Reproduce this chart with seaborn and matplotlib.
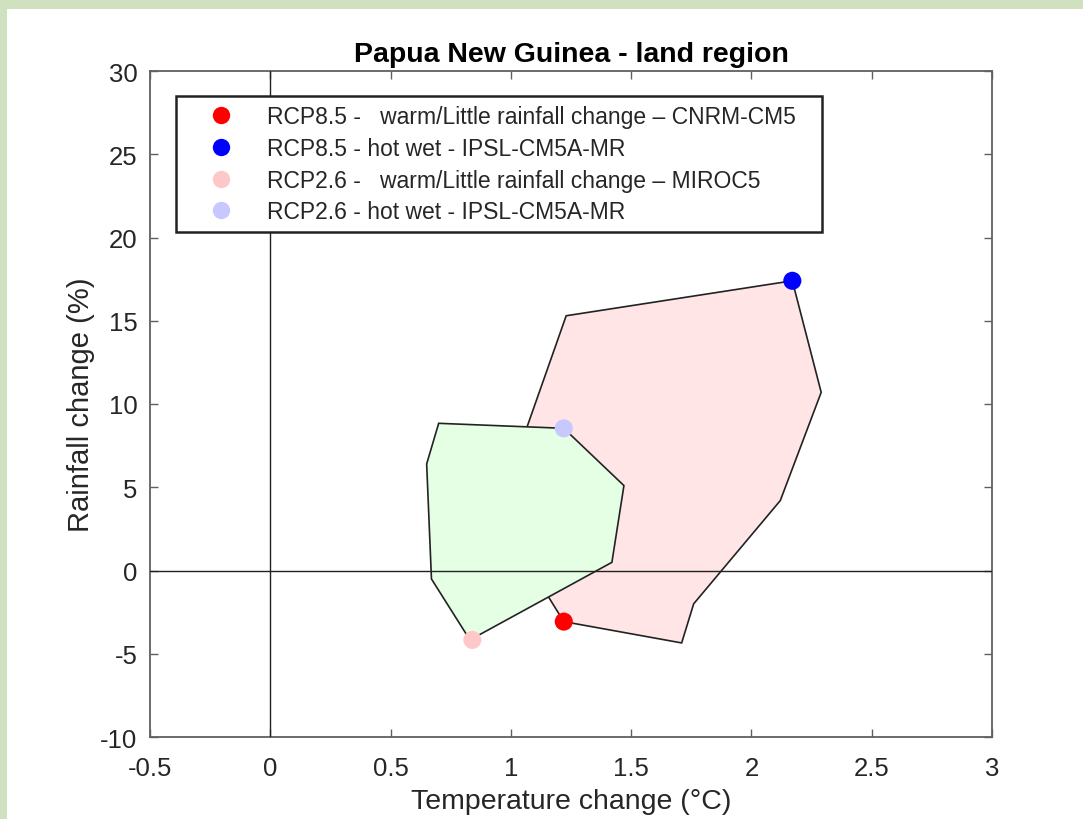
import matplotlib
matplotlib.use("Agg")
import matplotlib.pyplot as plt
from matplotlib.patches import Rectangle
from matplotlib.lines import Line2D
import seaborn as sns
import pandas as pd
import numpy as np

# ---------------- data ----------------
title = "Papua New Guinea - land region"
xlabel = "Temperature change (\u00b0C)"
ylabel = "Rainfall change (%)"

# RCP8.5 model spread (pink hull)
rcp85_temp = [1.23, 2.17, 2.29, 2.12, 1.76, 1.71, 1.22, 1.16, 0.94]
rcp85_rain = [15.3, 17.4, 10.7, 4.2, -2.0, -4.35, -3.07, -1.67, 3.4]
# RCP2.6 model spread (green hull)
rcp26_temp = [0.70, 1.22, 1.47, 1.42, 0.83, 0.67, 0.65]
rcp26_rain = [8.84, 8.54, 5.1, 0.49, -4.17, -0.51, 6.4]

# highlighted models
pt_labels = [
    "RCP8.5 -   warm/Little rainfall change \u2013 CNRM-CM5",
    "RCP8.5 - hot wet - IPSL-CM5A-MR",
    "RCP2.6 -   warm/Little rainfall change \u2013 MIROC5",
    "RCP2.6 - hot wet - IPSL-CM5A-MR",
]
pt_temp = [1.22, 2.17, 0.84, 1.22]
pt_rain = [-3.07, 17.4, -4.17, 8.54]
pt_colors = ["#ff0000", "#0000ff", "#ffc8c8", "#c8c8ff"]

xticks = [-0.5, 0, 0.5, 1, 1.5, 2, 2.5, 3]
xticklabels = ["-0.5", "0", "0.5", "1", "1.5", "2", "2.5", "3"]
yticks = [-10, -5, 0, 5, 10, 15, 20, 25, 30]
yticklabels = ["-10", "-5", "0", "5", "10", "15", "20", "25", "30"]

# ---------------- style ----------------
sns.set_theme(style="white")
plt.rcParams["font.family"] = ["Liberation Sans", "DejaVu Sans"]

fig = plt.figure(figsize=(10.83, 8.2), dpi=100, facecolor="#cfe1bf")
fig.add_artist(Rectangle((7 / 1083, 0), 1, 1 - 10 / 820, transform=fig.transFigure,
                         facecolor="white", edgecolor="none", zorder=-10))

ax = fig.add_axes([150 / 1083, 1 - 738 / 820, 842 / 1083, 666 / 820])
ax.set_facecolor("white")

ax.fill(rcp85_temp, rcp85_rain, facecolor="#ffe5e5", edgecolor="#222222", linewidth=1.2, zorder=1)
ax.fill(rcp26_temp, rcp26_rain, facecolor="#e5ffe5", edgecolor="#222222", linewidth=1.2, zorder=2)

ax.axhline(0, color="#222222", linewidth=1.0, zorder=3)
ax.axvline(0, color="#222222", linewidth=1.0, zorder=3)

df = pd.DataFrame({"temp": pt_temp, "rain": pt_rain, "model": pt_labels})
sns.scatterplot(data=df, x="temp", y="rain", hue="model", hue_order=pt_labels,
                palette=pt_colors, s=170, linewidth=0, edgecolor="none",
                legend=False, ax=ax, zorder=5)

ax.set_xlim(-0.5, 3)
ax.set_ylim(-10, 30)
ax.set_xticks(xticks)
ax.set_xticklabels(xticklabels)
ax.set_yticks(yticks)
ax.set_yticklabels(yticklabels)

for sp in ax.spines.values():
    sp.set_visible(True)
    sp.set_color("#606060")
    sp.set_linewidth(1.3)

ax.tick_params(axis="both", which="both", direction="in", length=6, width=1.0,
               color="#606060", labelcolor="#262626", labelsize=18.5,
               top=True, right=True, bottom=True, left=True)
ax.tick_params(axis="x", pad=13.5)
ax.tick_params(axis="y", pad=9)

ax.set_xlabel(xlabel, fontsize=20.5, color="#262626")
ax.set_ylabel(ylabel, fontsize=21, color="#262626")
ax.xaxis.set_label_coords(0.5, -0.077)
ax.yaxis.set_label_coords(-0.065, 0.5)
ax.set_title(title, fontsize=20.5, fontweight="bold", color="black", pad=7)

handles = [Line2D([0], [0], marker="o", linestyle="none", markersize=12.5,
                  markerfacecolor=c, markeredgecolor="none") for c in pt_colors]
leg = ax.legend(handles, pt_labels, loc="upper left",
                bbox_to_anchor=(26 / 842, 641 / 666, 646 / 842, 0), mode="expand",
                borderaxespad=0, fontsize=16.5, frameon=True, fancybox=False,
                borderpad=0.4, labelspacing=0.38, handlelength=3.1,
                handletextpad=0.45)
leg.get_frame().set_edgecolor("#222222")
leg.get_frame().set_linewidth(1.8)
leg.get_frame().set_facecolor("white")
leg.get_frame().set_alpha(1)
for t in leg.get_texts():
    t.set_color("#262626")

fig.savefig("out.png", dpi=100, facecolor=fig.get_facecolor())
